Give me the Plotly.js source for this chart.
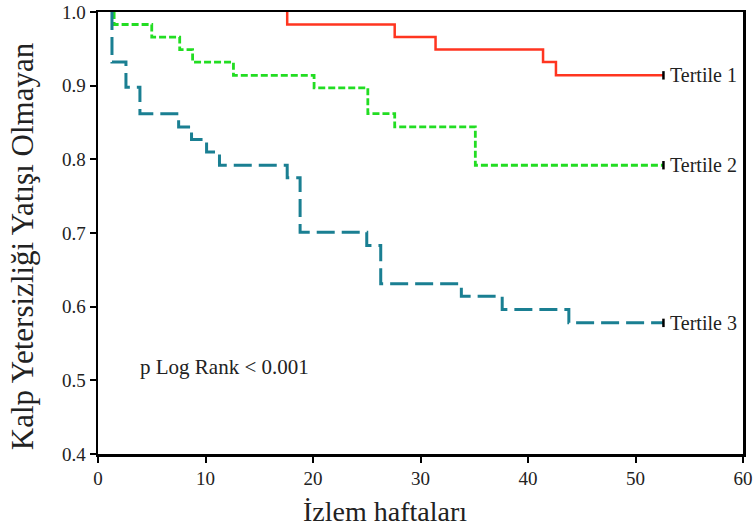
<!DOCTYPE html>
<html>
<head>
<meta charset="utf-8">
<script src="https://cdn.plot.ly/plotly-3.0.1.min.js"></script>
<style>html,body{margin:0;padding:0;background:#fff;}#chart{width:753px;height:531px;}</style>
</head>
<body>
<div id="chart"></div>
<script>
// Kaplan-Meier step data: event times (weeks) and survival after each event
const t1Time = [17.6, 27.6, 31.4, 41.4, 42.6, 52.6];
const t1Surv = [0.983, 0.966, 0.949, 0.932, 0.914, 0.914];

const t2Time = [1.5, 5.0, 7.6, 8.8, 12.6, 20.1, 25.1, 27.6, 35.1, 52.6];
const t2Surv = [0.983, 0.966, 0.949, 0.932, 0.914, 0.897, 0.862, 0.844, 0.792, 0.792];

const t3Time = [1.3, 2.6, 3.9, 7.5, 8.7, 10.1, 11.3, 17.6, 18.8, 25.0, 26.3, 33.8, 37.6, 43.8, 52.6];
const t3Surv = [0.932, 0.898, 0.862, 0.844, 0.827, 0.810, 0.792, 0.775, 0.701, 0.683, 0.631, 0.614, 0.596, 0.578, 0.578];

const startSurv = 1.0;
const seriesNames = ["Tertile 1", "Tertile 2", "Tertile 3"];
const xTicks = [0, 10, 20, 30, 40, 50, 60];
const yTicks = [0.4, 0.5, 0.6, 0.7, 0.8, 0.9, 1.0];
const yTickText = ["0.4", "0.5", "0.6", "0.7", "0.8", "0.9", "1.0"];
const xTitle = "İzlem haftaları";
const yTitle = "Kalp Yetersizliği Yatışı Olmayan";
const pText = "p Log Rank < 0.001";

const serif = "Liberation Serif";
const tickSerif = "'Liberation Serif', 'Times New Roman', Times, serif";
const times = [t1Time, t2Time, t3Time];
const survs = [t1Surv, t2Surv, t3Surv];
const colors = ["#ff3520", "#22dd22", "#1a7f92"];
const dashes = ["solid", "7px,3px", "18px,7px"];
const widths = [2.5, 2.8, 3];

const traces = [];
for (let i = 0; i < 3; i++) {
  traces.push({
    x: [times[i][0]].concat(times[i]),
    y: [startSurv].concat(survs[i]),
    type: "scatter", mode: "lines",
    line: {shape: "hv", color: colors[i], width: widths[i], dash: dashes[i]},
    hoverinfo: "skip", showlegend: false, cliponaxis: true
  });
}
// end (censor) marks
traces.push({
  x: times.map(a => a[a.length - 1]),
  y: survs.map(a => a[a.length - 1]),
  type: "scatter", mode: "markers",
  marker: {symbol: "line-ns", size: 6, line: {color: "#000", width: 2.5}},
  showlegend: false, hoverinfo: "skip", cliponaxis: false
});

const annotations = seriesNames.map((n, i) => ({
  x: times[i][times[i].length - 1], y: survs[i][survs[i].length - 1],
  xref: "x", yref: "y", text: n, showarrow: false,
  xanchor: "left", yanchor: "middle", xshift: 5,
  font: {family: serif, size: 20, color: "#222"}
}));
annotations.push({
  x: 3.7, y: 0.518, xref: "x", yref: "y", text: pText, showarrow: false,
  xanchor: "left", yanchor: "middle",
  font: {family: serif, size: 21, color: "#222"}
});
// axis titles placed as in the reference
annotations.push({
  x: 0.445, y: -0.131, xref: "paper", yref: "paper", text: xTitle, showarrow: false,
  xanchor: "center", yanchor: "middle",
  font: {family: serif, size: 28, color: "#222"}
});
annotations.push({
  x: -0.118, y: 0.47, xref: "paper", yref: "paper", text: yTitle, showarrow: false,
  xanchor: "center", yanchor: "middle", textangle: -90,
  font: {family: serif, size: 31, color: "#222"}
});

const layout = {
  width: 753, height: 531,
  margin: {l: 98, r: 10, t: 12, b: 77},
  paper_bgcolor: "#fff", plot_bgcolor: "#fff",
  showlegend: false,
  font: {family: tickSerif, size: 18, color: "#222"},
  xaxis: {
    range: [0, 60], tickvals: xTicks, ticktext: xTicks.map(String),
    showline: true, linecolor: "#000", linewidth: 2.5, mirror: true,
    ticks: "outside", ticklen: 6, tickwidth: 2, tickcolor: "#000",
    showgrid: false, zeroline: false,
    tickfont: {family: tickSerif, size: 19, color: "#222"}
  },
  yaxis: {
    range: [0.4, 1.0], tickvals: yTicks, ticktext: yTickText,
    showline: true, linecolor: "#000", linewidth: 2.5, mirror: true,
    ticks: "outside", ticklen: 6, tickwidth: 2, tickcolor: "#000",
    showgrid: false, zeroline: false,
    tickfont: {family: tickSerif, size: 19, color: "#222"}
  },
  annotations: annotations
};

Plotly.newPlot("chart", traces, layout, {displayModeBar: false, staticPlot: true});
</script>
</body>
</html>
